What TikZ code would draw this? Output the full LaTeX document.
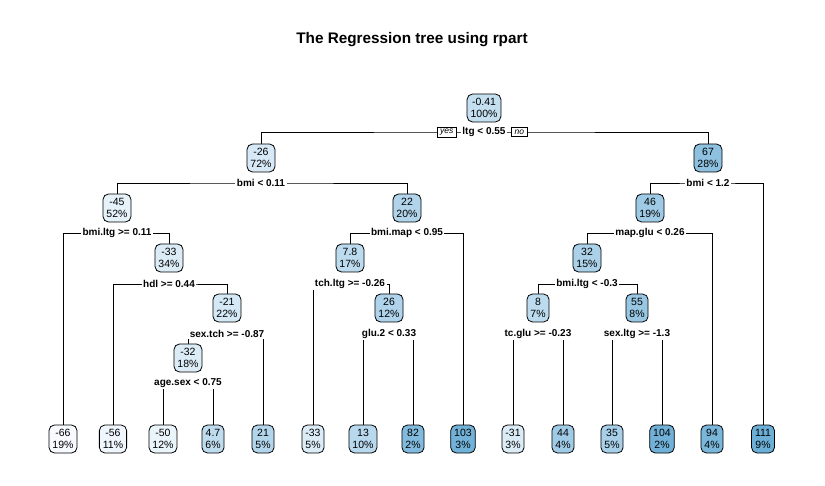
\documentclass[tikz,border=0pt]{standalone}
\usepackage{fontspec}
\setmainfont{Liberation Sans}
\usetikzlibrary{positioning,backgrounds}
\definecolor{bl}{RGB}{107,174,214}
\definecolor{wh}{RGB}{247,251,255}
\begin{document}
\begin{tikzpicture}[x=1pt,y=-1pt,line width=0.8pt,
    nd/.style={draw,rounded corners=5.5pt,fill=bl!#1!wh,align=center,
      font=\fontsize{10.5}{12.5}\selectfont,inner xsep=3.5pt,inner ysep=2pt,minimum height=28pt},
    split/.style={font=\bfseries\fontsize{10}{12}\selectfont,fill=white,inner sep=1.5pt},
    yn/.style={draw,fill=white,line width=0.6pt,font=\itshape\fontsize{8.5}{9}\selectfont,inner xsep=3pt,inner ysep=2pt}]
 \useasboundingbox (0,0) rectangle (825,486);
 \node (T) at (412,40) {\bfseries\fontsize{15.3}{18}\selectfont The Regression tree using rpart};
 % inner nodes
 \node[nd=37] (1) at (484,108) {-0.41\\100\%};
 \node[nd=23] (2) at (261,158) {-26\\72\%};
 \node[nd=75] (3) at (708,158) {67\\28\%};
 \node[nd=12] (4) at (117,208) {-45\\52\%};
 \node[nd=50] (5) at (407,208) {22\\20\%};
 \node[nd=63] (6) at (650,208) {46\\19\%};
 \node[nd=19] (9) at (169,258) {-33\\34\%};
 \node[nd=42] (10) at (350,258) {7.8\\17\%};
 \node[nd=55] (12) at (587,258) {32\\15\%};
 \node[nd=25] (19) at (227,308) {-21\\22\%};
 \node[nd=52] (21) at (389,308) {26\\12\%};
 \node[nd=42] (24) at (538,308) {8\\7\%};
 \node[nd=68] (25) at (637,308) {55\\8\%};
 \node[nd=19] (38) at (188,358) {-32\\18\%};
 % leaves
 \node[nd=0] (8) at (63,439) {-66\\19\%};
 \node[nd=6] (18) at (113,439) {-56\\11\%};
 \node[nd=9] (76) at (163,439) {-50\\12\%};
 \node[nd=40] (77) at (213,439) {4.7\\6\%};
 \node[nd=49] (39) at (263,439) {21\\5\%};
 \node[nd=19] (20) at (313,439) {-33\\5\%};
 \node[nd=45] (42) at (363,439) {13\\10\%};
 \node[nd=84] (43) at (413,439) {82\\2\%};
 \node[nd=95] (11) at (463,439) {103\\3\%};
 \node[nd=20] (48) at (513,439) {-31\\3\%};
 \node[nd=62] (49) at (563,439) {44\\4\%};
 \node[nd=57] (50) at (612,439) {35\\5\%};
 \node[nd=96] (51) at (662,439) {104\\2\%};
 \node[nd=90] (13) at (712,439) {94\\4\%};
 \node[nd=100] (7) at (763,439) {111\\9\%};
 % splits
 \node[split] (s1) at (484,132) {ltg < 0.55};
 \node[yn,left=4pt of s1] (yes) {yes};
 \node[yn,right=4pt of s1] (no) {no};
 \node[split] (s2) at (261,183) {bmi < 0.11};
 \node[split] (s3) at (708,183) {bmi < 1.2};
 \node[split] (s4) at (117,233) {bmi.ltg >= 0.11};
 \node[split] (s5) at (407,233) {bmi.map < 0.95};
 \node[split] (s6) at (650,233) {map.glu < 0.26};
 \node[split] (s9) at (169,284) {hdl >= 0.44};
 \node[split] (s10) at (350,284) {tch.ltg >= -0.26};
 \node[split] (s12) at (587,284) {bmi.ltg < -0.3};
 \node[split] (s19) at (227,334) {sex.tch >= -0.87};
 \node[split] (s21) at (389,334) {glu.2 < 0.33};
 \node[split] (s24) at (538,334) {tc.glu >= -0.23};
 \node[split] (s25) at (637,334) {sex.ltg >= -1.3};
 \node[split] (s38) at (188,383) {age.sex < 0.75};
 \begin{pgfonlayer}{background}
 \foreach \p/\l/\r in {1/2/3,2/4/5,3/6/7,4/8/9,5/10/11,6/12/13,9/18/19,10/20/21,12/24/25,
                       19/38/39,21/42/43,24/48/49,25/50/51,38/76/77}
   \draw (\l.north) |- (s\p.center) -| (\r.north);
 \end{pgfonlayer}
\end{tikzpicture}
\end{document}
